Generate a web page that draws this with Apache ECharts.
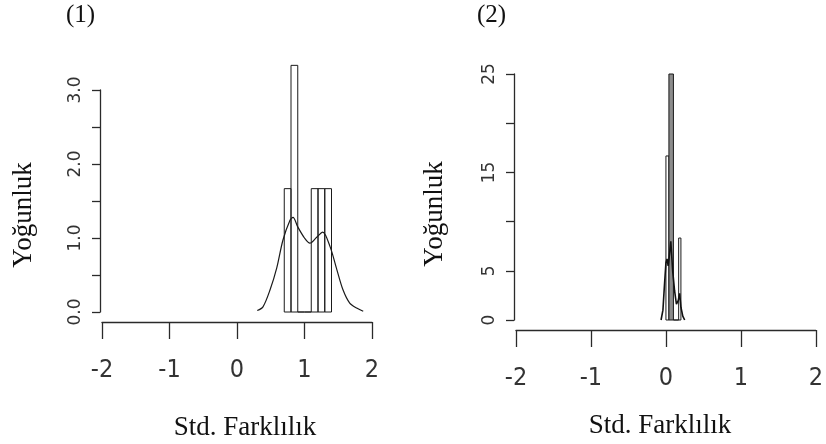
<!DOCTYPE html>
<html>
<head>
<meta charset="utf-8">
<script src="https://cdn.jsdelivr.net/npm/echarts@6/dist/echarts.min.js"></script>
<style>
html,body{margin:0;padding:0;background:#fff;}
#c{width:826px;height:444px;}
</style>
</head>
<body>
<div id="c"></div>
<script>
// ---- Panel (1) data ----
const xTicks = [-2, -1, 0, 1, 2];
const hist1Start = [0.7, 0.8, 0.9, 1.0, 1.1, 1.2, 1.3];
const hist1End   = [0.8, 0.9, 1.0, 1.1, 1.2, 1.3, 1.4];
const hist1Dens  = [1.667, 3.333, 0, 0, 1.667, 1.667, 1.667];
const dens1X = [0.30, 0.385, 0.49, 0.59, 0.68, 0.785, 0.83, 0.90, 1.00, 1.08, 1.18, 1.27, 1.38, 1.48, 1.57, 1.67, 1.78, 1.87];
const dens1Y = [0.02, 0.07, 0.30, 0.60, 0.97, 1.24, 1.28, 1.15, 1.00, 0.93, 1.01, 1.08, 0.88, 0.57, 0.30, 0.12, 0.05, 0.01];
const yLabels1 = ['0.0', '1.0', '2.0', '3.0'];

// ---- Panel (2) data ----
const hist2Start = [0.00, 0.10, 0.17];
const hist2End   = [0.04, 0.17, 0.20];
const hist2Dens  = [16.67, 0, 8.33];
const hist2DenseStart = [0.04];
const hist2DenseEnd   = [0.10];
const hist2DenseDens  = [25.0];
const dens2X = [-0.065, -0.04, -0.02, 0.00, 0.015, 0.03, 0.045, 0.065, 0.09, 0.115, 0.14, 0.165, 0.183, 0.20, 0.225, 0.25];
const dens2Y = [0.0, 1.0, 3.5, 5.8, 6.2, 5.5, 6.5, 8.0, 5.0, 3.0, 1.6, 2.0, 2.7, 1.3, 0.4, 0.0];
const yLabels2 = ['0', '5', '15', '25'];

const titles = ['(1)', '(2)'];
const xName = 'Std. Farklılık';
const yName = 'Yoğunluk';

const zip3 = (a, b, c) => a.map((v, i) => [v, b[i], c[i]]);
const zip2 = (a, b) => a.map((v, i) => [v, b[i]]);

function histRender(fill) {
  return function (params, api) {
    const s = api.value(0), e = api.value(1), d = api.value(2);
    const p0 = api.coord([s, 0]);
    const p1 = api.coord([e, d]);
    return {
      type: 'rect',
      shape: { x: p0[0], y: p1[1], width: p1[0] - p0[0], height: p0[1] - p1[1] },
      style: { fill: fill, stroke: '#1a1a1a', lineWidth: 1 }
    };
  };
}

const serif = "'Liberation Serif', 'DejaVu Serif', serif";
const narrow = "'Liberation Sans Narrow', 'DejaVu Sans Condensed', 'Liberation Sans', sans-serif";
const axisColor = '#2a2a2a';

function xAxisCfg(gridIndex, gapName, pad) {
  return {
    gridIndex: gridIndex, type: 'value', min: -2, max: 2, interval: 1,
    offset: 10,
    axisLine: { show: true, onZero: false, lineStyle: { color: axisColor, width: 1.3 } },
    axisTick: { show: true, length: 17, lineStyle: { color: axisColor, width: 1.3 } },
    splitLine: { show: false },
    axisLabel: {
      margin: 36, color: '#333', fontFamily: narrow, fontSize: 25,
      formatter: v => xTicks.includes(v) ? String(v) : ''
    },
    name: xName, nameLocation: 'middle', nameGap: gapName,
    nameTextStyle: { fontFamily: serif, fontSize: 27, color: '#111', padding: pad }
  };
}

function yAxisCfg(gridIndex, max, interval, labels, gapName, pad, fmt) {
  return {
    gridIndex: gridIndex, type: 'value', min: 0, max: max, interval: interval,
    offset: 2,
    axisLine: { show: true, onZero: false, lineStyle: { color: axisColor, width: 1.3 } },
    axisTick: { show: true, length: 8, lineStyle: { color: axisColor, width: 1.3 } },
    splitLine: { show: false },
    axisLabel: {
      rotate: 90, margin: 16, color: '#333', fontFamily: "'DejaVu Sans', sans-serif", fontSize: 17,
      formatter: v => { const s = fmt(v); return labels.includes(s) ? s : ''; }
    },
    name: yName, nameLocation: 'middle', nameGap: gapName,
    nameTextStyle: { fontFamily: serif, fontSize: 27, color: '#111', padding: pad }
  };
}

const chart = echarts.init(document.getElementById('c'), null, { renderer: 'canvas' });
chart.setOption({
  animation: false,
  backgroundColor: '#fff',
  title: [
    { text: titles[0], left: 66, top: 3, padding: 0, textStyle: { fontFamily: serif, fontSize: 25, fontWeight: 'normal', color: '#111' } },
    { text: titles[1], left: 477, top: 3, padding: 0, textStyle: { fontFamily: serif, fontSize: 25, fontWeight: 'normal', color: '#111' } }
  ],
  grid: [
    { left: 102, top: 90, width: 270, height: 222 },
    { left: 516, top: 74, width: 306, height: 248 }
  ],
  xAxis: [
    xAxisCfg(0, 92, [0, 0, 0, 16]),
    xAxisCfg(1, 82, [0, 12, 0, 0])
  ],
  yAxis: [
    yAxisCfg(0, 3, 0.5, yLabels1, 63, [0, 28, 0, 0], v => v.toFixed(1)),
    yAxisCfg(1, 25, 5, yLabels2, 66, [0, 34, 0, 0], v => String(v))
  ],
  series: [
    {
      type: 'custom', xAxisIndex: 0, yAxisIndex: 0, clip: false,
      renderItem: histRender('rgba(255,255,255,0)'),
      encode: { x: [0, 1], y: 2 },
      data: zip3(hist1Start, hist1End, hist1Dens), z: 2
    },
    {
      type: 'line', xAxisIndex: 0, yAxisIndex: 0, clip: false,
      showSymbol: false, smooth: 0.3,
      lineStyle: { color: '#1a1a1a', width: 1.2 },
      data: zip2(dens1X, dens1Y), z: 3
    },
    {
      type: 'custom', xAxisIndex: 1, yAxisIndex: 1, clip: false,
      renderItem: histRender('rgba(255,255,255,0)'),
      encode: { x: [0, 1], y: 2 },
      data: zip3(hist2Start, hist2End, hist2Dens), z: 2
    },
    {
      type: 'custom', xAxisIndex: 1, yAxisIndex: 1, clip: false,
      renderItem: histRender('#8c8c8c'),
      encode: { x: [0, 1], y: 2 },
      data: zip3(hist2DenseStart, hist2DenseEnd, hist2DenseDens), z: 2
    },
    {
      type: 'line', xAxisIndex: 1, yAxisIndex: 1, clip: false,
      showSymbol: false, smooth: false,
      lineStyle: { color: '#111', width: 1.6 },
      data: zip2(dens2X, dens2Y), z: 3
    }
  ]
});
</script>
</body>
</html>
